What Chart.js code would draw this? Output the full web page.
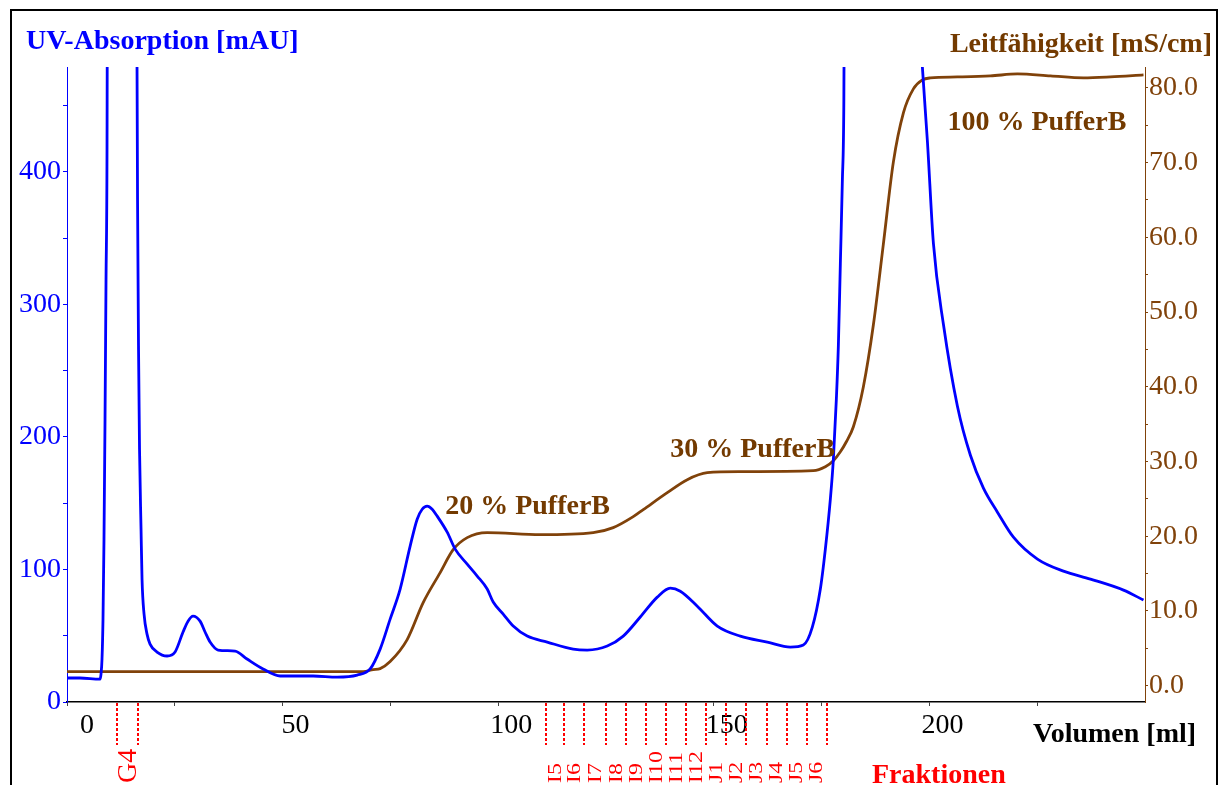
<!DOCTYPE html>
<html>
<head>
<meta charset="utf-8">
<script src="https://cdn.jsdelivr.net/npm/chart.js@4.4.0/dist/chart.umd.min.js"></script>
<style>
  html, body { margin: 0; padding: 0; background: #ffffff; }
  #wrap { width: 1223px; height: 785px; position: relative; }
</style>
</head>
<body>
<div id="wrap"><canvas id="c"></canvas></div>
<script>
// ---------- data ----------
// UV absorption curve: elution volume [ml] and absorbance [mAU]
const uvVolume = [0, 3.0, 7.66, 7.89, 8.12, 8.35, 8.58, 8.82, 9.05, 9.28, 9.63, 15.89, 16.24, 16.36, 16.59, 16.82, 17.17, 17.40, 17.87, 18.56, 19.26, 20.88, 23.20, 25.06, 26.91, 28.07, 29.23, 30.86, 32.02, 33.18, 35.03, 38.98, 41.76, 45.48, 49.42, 57.08, 62.65, 67.29, 70.30, 72.62, 74.94, 77.26, 79.58, 81.21, 82.37, 83.53, 84.69, 85.85, 88.17, 90.02, 92.81, 95.13, 97.45, 98.84, 101.16, 103.48, 106.73, 111.37, 117.40, 120.65, 125.29, 129.00, 132.95, 136.89, 139.91, 142.23, 146.17, 150.81, 156.15, 162.41, 167.75, 170.77, 172.85, 174.71, 175.87, 177.03, 177.73, 178.42, 178.89, 179.35, 179.81, 180.16, 180.5, 182.0, 190.0, 195.0, 197.0, 198.38, 199.54, 200.93, 203.25, 206.50, 209.51, 212.53, 215.78, 219.49, 225.06, 231.09, 237.35, 245.01, 249.65];
const uvAbsorption = [18.1, 18.1, 17.3, 21.1, 32.4, 62.5, 122.8, 213.3, 318.8, 416.7, 1000, 1000, 479.3, 379, 266, 190.7, 130.4, 92.7, 66.3, 51.2, 43.7, 37.7, 34.7, 37.7, 52.8, 61.0, 64.8, 61.0, 52.8, 45.2, 39.2, 38.4, 32.4, 24.9, 19.6, 19.6, 18.8, 20.3, 24.9, 39.9, 62.5, 85.2, 117.6, 137.9, 145.4, 147.7, 145.4, 140.2, 128.1, 115.3, 104.0, 95.0, 85.2, 75.4, 66.3, 57.3, 49.7, 45.2, 39.9, 39.2, 42.2, 49.7, 64.1, 79.1, 85.9, 83.6, 72.3, 57.3, 49.7, 45.2, 41.4, 43.0, 56.5, 85.2, 115.3, 153.0, 183.1, 228.3, 269.0, 330.8, 392.6, 453.7, 700, 900, 950, 700, 560, 478.5, 422.8, 345.9, 284.9, 223.1, 186.1, 161.3, 143.2, 124.3, 107.8, 98.7, 92.7, 84.4, 76.9];

// Conductivity curve: elution volume [ml] and conductivity [mS/cm]
const condVolume = [0, 68.68, 71.00, 72.62, 74.94, 78.89, 82.60, 86.54, 89.56, 92.81, 97.45, 109.74, 122.04, 126.68, 131.32, 133.64, 139.21, 143.85, 148.49, 156.15, 173.09, 175.87, 177.73, 179.35, 180.74, 182.37, 184.69, 187.01, 189.33, 191.65, 193.97, 196.29, 198.38, 200.23, 206.50, 214.15, 220.42, 228.07, 235.73, 241.99, 249.65];
const condValues = [1.87, 1.87, 2.14, 2.27, 3.21, 6.15, 11.10, 15.12, 18.19, 19.80, 20.47, 20.20, 20.47, 21.14, 22.61, 23.55, 25.82, 27.56, 28.49, 28.63, 28.76, 29.30, 30.10, 31.30, 32.64, 34.65, 40.0, 48.29, 59.13, 70.10, 76.66, 79.87, 81.07, 81.34, 81.47, 81.61, 81.87, 81.61, 81.34, 81.47, 81.74];

// Fractions: name, start and end volume [ml]
const fractionNames = ['G4', 'I5', 'I6', 'I7', 'I8', 'I9', 'I10', 'I11', 'I12', 'J1', 'J2', 'J3', 'J4', 'J5', 'J6'];
const fractionStart = [11.6, 111.1, 115.3, 120.0, 125.0, 129.6, 134.3, 138.9, 143.5, 148.2, 152.8, 157.5, 162.3, 166.9, 171.5];
const fractionEnd   = [16.5, 115.3, 120.0, 125.0, 129.6, 134.3, 138.9, 143.5, 148.2, 152.8, 157.5, 162.3, 166.9, 171.5, 176.2];

// Buffer step annotations: text and anchor (volume [ml], conductivity [mS/cm])
const stepLabels = ['20 % PufferB', '30 % PufferB', '100 % PufferB'];
const stepVolume = [87.7, 139.9, 204.2];
const stepCond   = [23.0, 30.6, 74.4];

// Axis ticks (all tick marks) and the ones that carry a label
const xTickValues = [0, 25, 50, 75, 100, 125, 150, 175, 200, 225];
const xTickLabels = [0, 50, 100, 150, 200];
const uvTickValues = [0, 50, 100, 150, 200, 250, 300, 350, 400, 450];
const uvTickLabels = [0, 100, 200, 300, 400];
const condTickValues = [0, 5, 10, 15, 20, 25, 30, 35, 40, 45, 50, 55, 60, 65, 70, 75, 80];
const condTickLabels = [0, 10, 20, 30, 40, 50, 60, 70, 80];

// ---------- styling ----------
const BLUE = '#0000ff';
const BROWN = '#80420a';
const BROWN_TEXT = '#733a00';
const RED = '#ff0000';
const FONT = '"Liberation Serif", "Times New Roman", serif';

Chart.defaults.font.family = FONT;

const setTicks = values => scale => { scale.ticks = values.map(v => ({ value: v })); };

const overlay = {
  id: 'overlay',
  afterDraw(chart) {
    const ctx = chart.ctx;
    const xs = chart.scales.x;
    const yc = chart.scales.y2;
    const ca = chart.chartArea;
    ctx.save();
    // outer frame
    ctx.strokeStyle = '#000';
    ctx.lineWidth = 2;
    ctx.strokeRect(11, 10, 1206, 820);

    // axis titles
    ctx.font = 'bold 28px ' + FONT;
    ctx.textBaseline = 'alphabetic';
    ctx.fillStyle = BLUE;
    ctx.textAlign = 'left';
    ctx.fillText('UV-Absorption [mAU]', 26, 49);
    ctx.fillStyle = BROWN_TEXT;
    ctx.textAlign = 'right';
    ctx.fillText('Leitfähigkeit [mS/cm]', 1212, 52);
    ctx.fillStyle = '#000';
    ctx.textAlign = 'left';
    ctx.fillText('Volumen [ml]', 1033, 742);
    ctx.fillStyle = RED;
    ctx.fillText('Fraktionen', 872, 783);

    // buffer step labels
    ctx.fillStyle = BROWN_TEXT;
    ctx.textAlign = 'left';
    for (let i = 0; i < stepLabels.length; i++) {
      ctx.fillText(stepLabels[i], xs.getPixelForValue(stepVolume[i]), yc.getPixelForValue(stepCond[i]));
    }

    // fraction markers
    ctx.strokeStyle = RED;
    ctx.lineWidth = 2;
    ctx.setLineDash([3, 2]);
    const bounds = [];
    for (let i = 0; i < fractionNames.length; i++) {
      bounds.push(fractionStart[i], fractionEnd[i]);
    }
    bounds.forEach(b => {
      const x = Math.round(xs.getPixelForValue(b));
      ctx.beginPath();
      ctx.moveTo(x, ca.bottom + 1);
      ctx.lineTo(x, ca.bottom + 43);
      ctx.stroke();
    });
    ctx.setLineDash([]);
    ctx.fillStyle = RED;
    for (let i = 0; i < fractionNames.length; i++) {
      const xm = (xs.getPixelForValue(fractionStart[i]) + xs.getPixelForValue(fractionEnd[i])) / 2;
      ctx.save();
      ctx.translate(xm, 783);
      ctx.rotate(-Math.PI / 2);
      ctx.textAlign = 'left';
      ctx.textBaseline = 'middle';
      if (fractionNames[i] === 'G4') {
        ctx.font = '28px ' + FONT;
      } else {
        ctx.font = '18px ' + FONT;
        ctx.scale(1.33, 1);
      }
      ctx.fillText(fractionNames[i], 0, 1);
      ctx.restore();
    }
    ctx.restore();
  }
};

new Chart(document.getElementById('c'), {
  type: 'line',
  data: {
    datasets: [
      {
        label: 'UV-Absorption',
        data: uvVolume.map((v, i) => ({ x: v, y: uvAbsorption[i] })),
        borderColor: BLUE,
        borderWidth: 2.8,
        pointRadius: 0,
        cubicInterpolationMode: 'monotone',
        yAxisID: 'y'
      },
      {
        label: 'Leitfähigkeit',
        data: condVolume.map((v, i) => ({ x: v, y: condValues[i] })),
        borderColor: BROWN,
        borderWidth: 2.8,
        pointRadius: 0,
        cubicInterpolationMode: 'monotone',
        yAxisID: 'y2'
      }
    ]
  },
  options: {
    responsive: true,
    maintainAspectRatio: false,
    animation: false,
    devicePixelRatio: 1,
    layout: { padding: { top: 67, left: 0, right: 0, bottom: 0 } },
    plugins: { legend: { display: false }, tooltip: { enabled: false } },
    scales: {
      x: {
        type: 'linear',
        min: 0,
        max: 250,
        afterBuildTicks: setTicks(xTickValues),
        afterFit: s => { s.height = 83; },
        border: { display: true, color: '#000', width: 1.5 },
        grid: { drawOnChartArea: false, drawTicks: true, tickLength: 4, color: '#444' },
        ticks: {
          maxRotation: 0,
          autoSkip: false,
          color: '#000',
          font: { size: 28 },
          padding: 3,
          labelOffset: 13,
          callback: v => xTickLabels.includes(v) ? (v === 0 ? '  0' : String(v)) : ''
        }
      },
      y: {
        type: 'linear',
        position: 'left',
        min: 0,
        max: 479,
        afterBuildTicks: setTicks(uvTickValues),
        afterFit: s => { s.width = 67; },
        border: { display: true, color: BLUE, width: 1 },
        grid: { drawOnChartArea: false, drawTicks: true, tickLength: 4, color: BLUE },
        ticks: {
          autoSkip: false,
          color: BLUE,
          font: { size: 28 },
          padding: 2,
          callback: v => uvTickLabels.includes(v) ? String(v) : ''
        }
      },
      y2: {
        type: 'linear',
        position: 'right',
        min: -2.2,
        max: 82.8,
        afterBuildTicks: setTicks(condTickValues),
        afterFit: s => { s.width = 78; },
        border: { display: true, color: BROWN, width: 1 },
        grid: { drawOnChartArea: false, drawTicks: true, tickLength: 3, color: BROWN },
        ticks: {
          autoSkip: false,
          color: BROWN,
          font: { size: 28 },
          padding: 1,
          callback: v => condTickLabels.includes(v) ? v.toFixed(1) : ''
        }
      }
    }
  },
  plugins: [overlay]
});
</script>
</body>
</html>
